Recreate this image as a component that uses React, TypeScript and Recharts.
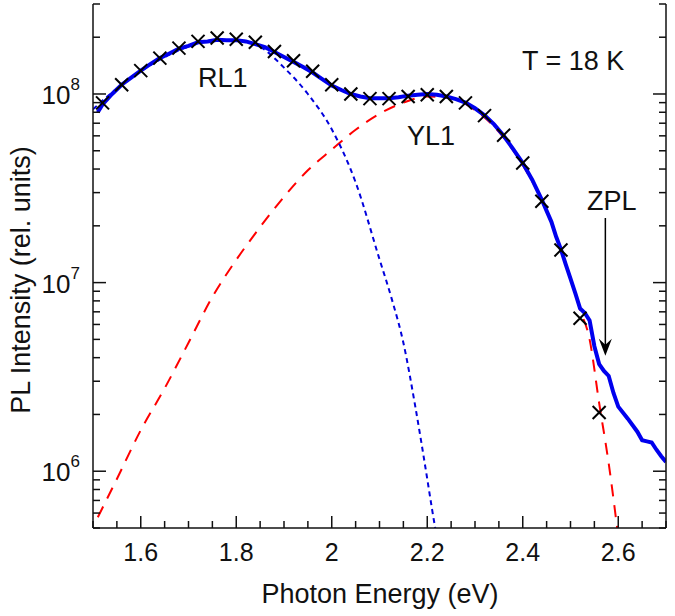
import {
  ComposedChart,
  Line,
  Scatter,
  XAxis,
  YAxis,
  ReferenceLine,
} from 'recharts';

// measured PL spectrum (thick blue line)
const specE = [
  1.51, 1.52, 1.54, 1.56, 1.58, 1.6, 1.62, 1.64, 1.66, 1.68, 1.7, 1.72, 1.74, 1.76, 1.78, 1.8,
  1.82, 1.84, 1.86, 1.88, 1.9, 1.92, 1.94, 1.96, 1.98, 2.0, 2.02, 2.04, 2.06, 2.08, 2.1, 2.12,
  2.14, 2.16, 2.18, 2.2, 2.22, 2.24, 2.26, 2.28, 2.3, 2.32, 2.34, 2.36, 2.38, 2.4, 2.42, 2.43,
  2.44, 2.45, 2.46, 2.47, 2.48, 2.49, 2.5, 2.51, 2.52, 2.53, 2.54, 2.55, 2.56, 2.57, 2.58, 2.59,
  2.6, 2.62, 2.64, 2.65, 2.66, 2.67, 2.68, 2.69, 2.7,
];
const specI = [
  8.0e7, 8.8e7, 1.0e8, 1.12e8, 1.22e8, 1.33e8, 1.44e8, 1.55e8, 1.64e8, 1.74e8, 1.8e8, 1.88e8,
  1.9e8, 1.94e8, 1.93e8, 1.93e8, 1.9e8, 1.84e8, 1.77e8, 1.67e8, 1.57e8, 1.48e8, 1.39e8, 1.3e8,
  1.2e8, 1.11e8, 1.05e8, 1.0e8, 9.7e7, 9.5e7, 9.5e7, 9.5e7, 9.6e7, 9.8e7, 9.9e7, 1.0e8, 9.9e7,
  9.7e7, 9.4e7, 9.0e7, 8.4e7, 7.7e7, 6.9e7, 6.0e7, 5.1e7, 4.3e7, 3.5e7, 3.1e7, 2.75e7, 2.4e7,
  2.1e7, 1.75e7, 1.5e7, 1.25e7, 1.05e7, 8.8e6, 7.3e6, 6.9e6, 6.3e6, 4.6e6, 3.7e6, 3.4e6, 3.2e6,
  2.6e6, 2.2e6, 1.9e6, 1.62e6, 1.46e6, 1.44e6, 1.42e6, 1.3e6, 1.2e6, 1.12e6,
];

// sum of fit (crosses)
const fitE = [
  1.52, 1.56, 1.6, 1.64, 1.68, 1.72, 1.76, 1.8, 1.84, 1.88, 1.92, 1.96, 2.0, 2.04, 2.08, 2.12,
  2.16, 2.2, 2.24, 2.28, 2.32, 2.36, 2.4, 2.44, 2.48, 2.52, 2.56,
];
const fitI = [
  8.97e7, 1.12e8, 1.33e8, 1.55e8, 1.75e8, 1.9e8, 1.98e8, 1.95e8, 1.88e8, 1.68e8, 1.5e8, 1.32e8,
  1.12e8, 1.0e8, 9.45e7, 9.45e7, 9.7e7, 9.9e7, 9.7e7, 8.97e7, 7.68e7, 6.04e7, 4.31e7, 2.7e7,
  1.49e7, 6.47e6, 2.05e6,
];

// RL1 band (blue dotted)
const rlE = [1.5, 1.55, 1.6, 1.65, 1.7, 1.75, 1.8, 1.85, 1.9, 1.95, 2.0, 2.05, 2.1, 2.125, 2.15, 2.175, 2.2, 2.21, 2.225];
const rlI = [8.3e7, 1.07e8, 1.32e8, 1.57e8, 1.78e8, 1.92e8, 1.93e8, 1.78e8, 1.38e8, 1.0e8, 6.5e7, 3.4e7, 1.33e7, 8.3e6, 4.8e6, 2.2e6, 9.1e5, 6.3e5, 3.8e5];

// YL1 band (red dashed)
const ylE = [
  1.51, 1.52, 1.55, 1.6, 1.65, 1.7, 1.75, 1.8, 1.85, 1.9, 1.95, 2.0, 2.05, 2.1, 2.15, 2.2, 2.25,
  2.3, 2.35, 2.4, 2.45, 2.5, 2.52, 2.54, 2.56, 2.58, 2.6,
];
const ylI = [
  5.7e5, 6.4e5, 9.1e5, 1.65e6, 2.75e6, 4.8e6, 8.4e6, 1.32e7, 1.97e7, 2.85e7, 3.94e7, 5.07e7,
  6.46e7, 7.85e7, 9.0e7, 9.7e7, 9.5e7, 8.2e7, 6.3e7, 4.2e7, 2.4e7, 1.05e7, 7.2e6, 5.0e6, 2.3e6,
  1.1e6, 4.5e5,
];

const xTicks = [
  1.5, 1.55, 1.6, 1.65, 1.7, 1.75, 1.8, 1.85, 1.9, 1.95, 2.0, 2.05, 2.1, 2.15, 2.2, 2.25, 2.3,
  2.35, 2.4, 2.45, 2.5, 2.55, 2.6, 2.65, 2.7,
];
const yTicks = [
  5e5, 6e5, 7e5, 8e5, 9e5, 1e6, 2e6, 3e6, 4e6, 5e6, 6e6, 7e6, 8e6, 9e6, 1e7, 2e7, 3e7, 4e7, 5e7,
  6e7, 7e7, 8e7, 9e7, 1e8, 2e8, 3e8,
];

const toRows = (es: number[], vs: number[]) => es.map((e, i) => ({ e, v: vs[i] }));
const spectrum = toRows(specE, specI);
const fitSum = toRows(fitE, fitI);
const rl1 = toRows(rlE, rlI);
const yl1 = toRows(ylE, ylI);

const FONT = '"Liberation Sans", Arial, sans-serif';
const INK = '#111';

const isMajorX = (v: number) => Math.abs(v * 5 - Math.round(v * 5)) < 1e-6 && v > 1.55 && v < 2.65;
const isMajorY = (v: number) => Math.abs(Math.log10(v) - Math.round(Math.log10(v))) < 1e-6;

function BottomTick({ x, y, payload }: any) {
  const major = isMajorX(payload.value);
  const label = Number(payload.value.toFixed(1)).toString();
  return (
    <g>
      <line x1={x} x2={x} y1={y} y2={y - (major ? 12 : 7)} stroke={INK} strokeWidth={1.5} />
      {major && (
        <text x={x} y={y + 33} textAnchor="middle" fontSize={25} fontFamily={FONT} fill={INK}>
          {label}
        </text>
      )}
    </g>
  );
}

function TopTick({ x, y, payload }: any) {
  const major = isMajorX(payload.value);
  return <line x1={x} x2={x} y1={y} y2={y + (major ? 12 : 7)} stroke={INK} strokeWidth={1.5} />;
}

function LeftTick({ x, y, payload }: any) {
  const major = isMajorY(payload.value);
  const exp = Math.round(Math.log10(payload.value));
  return (
    <g>
      <line x1={x} x2={x + (major ? 13 : 7)} y1={y} y2={y} stroke={INK} strokeWidth={1.5} />
      {major && (
        <text x={x - 13} y={y + 10} textAnchor="end" fontSize={26} fontFamily={FONT} fill={INK}>
          10
          <tspan fontSize={17} dy={-14}>{exp}</tspan>
        </text>
      )}
    </g>
  );
}

function RightTick({ x, y, payload }: any) {
  const major = isMajorY(payload.value);
  return <line x1={x} x2={x - (major ? 13 : 7)} y1={y} y2={y} stroke={INK} strokeWidth={1.5} />;
}

function Cross({ cx, cy }: any) {
  const s = 6.5;
  return (
    <g stroke="#000" strokeWidth={2}>
      <line x1={cx - s} y1={cy - s} x2={cx + s} y2={cy + s} />
      <line x1={cx - s} y1={cy + s} x2={cx + s} y2={cy - s} />
    </g>
  );
}

function Arrow({ x1, y1, x2, y2 }: any) {
  return (
    <g>
      <line x1={x1} y1={y1} x2={x2} y2={y2 - 8} stroke="#000" strokeWidth={1.5} />
      <path d={`M${x2},${y2} L${x2 - 6.5},${y2 - 17} L${x2},${y2 - 11} L${x2 + 6.5},${y2 - 17} Z`} fill="#000" />
    </g>
  );
}

export default function App() {
  return (
    <div style={{ position: 'absolute', left: 0, top: 0, width: 675, height: 616, background: '#fff' }}>
      <ComposedChart width={675} height={616} margin={{ top: 4, right: 0, bottom: 0, left: 0 }}>
        <XAxis
          dataKey="e"
          type="number"
          domain={[1.5, 2.7]}
          ticks={xTicks}
          interval={0}
          height={88}
          tickSize={0}
          tickMargin={0}
          tickLine={false}
          axisLine={{ stroke: INK, strokeWidth: 1.5 }}
          tick={<BottomTick />}
          allowDataOverflow
        />
        <XAxis
          xAxisId="top"
          orientation="top"
          type="number"
          domain={[1.5, 2.7]}
          ticks={xTicks}
          interval={0}
          height={0}
          tickSize={0}
          tickMargin={0}
          tickLine={false}
          axisLine={{ stroke: INK, strokeWidth: 1.5 }}
          tick={<TopTick />}
          allowDataOverflow
        />
        <YAxis
          scale="log"
          type="number"
          domain={[5e5, 3e8]}
          ticks={yTicks}
          interval={0}
          width={93}
          tickSize={0}
          tickMargin={0}
          tickLine={false}
          axisLine={{ stroke: INK, strokeWidth: 1.5 }}
          tick={<LeftTick />}
          allowDataOverflow
        />
        <YAxis
          yAxisId="right"
          orientation="right"
          scale="log"
          type="number"
          domain={[5e5, 3e8]}
          ticks={yTicks}
          interval={0}
          width={9}
          tickSize={0}
          tickMargin={0}
          tickLine={false}
          axisLine={{ stroke: INK, strokeWidth: 1.5 }}
          tick={<RightTick />}
          allowDataOverflow
        />

        <Line
          data={yl1}
          dataKey="v"
          type="monotone"
          stroke="#ff0000"
          strokeWidth={2}
          strokeDasharray="12 9"
          dot={false}
          activeDot={false}
          isAnimationActive={false}
        />
        <Line
          data={rl1}
          dataKey="v"
          type="monotone"
          stroke="#0000dd"
          strokeWidth={2}
          strokeDasharray="5 4"
          dot={false}
          activeDot={false}
          isAnimationActive={false}
        />
        <Line
          data={spectrum}
          dataKey="v"
          type="linear"
          stroke="#0000ee"
          strokeWidth={4}
          dot={false}
          activeDot={false}
          isAnimationActive={false}
        />
        <Scatter data={fitSum} dataKey="v" shape={<Cross />} isAnimationActive={false} />

        <ReferenceLine
          segment={[
            { x: 2.573, y: 2.2e7 },
            { x: 2.573, y: 4.1e6 },
          ]}
          shape={(p: any) => <Arrow {...p} />}
        />
      </ComposedChart>

      <svg
        width={675}
        height={616}
        style={{ position: 'absolute', left: 0, top: 0, pointerEvents: 'none' }}
        fontFamily={FONT}
        fill={INK}
      >
        <text x={380} y={603} textAnchor="middle" fontSize={27}>
          Photon Energy (eV)
        </text>
        <text x={30} y={280} textAnchor="middle" fontSize={27} transform="rotate(-90 30 280)">
          PL Intensity (rel. units)
        </text>
        <text x={198} y={87} fontSize={27}>RL1</text>
        <text x={407} y={145} fontSize={27}>YL1</text>
        <text x={522} y={70} fontSize={27}>T = 18 K</text>
        <text x={587} y={210} fontSize={27}>ZPL</text>
      </svg>
    </div>
  );
}
